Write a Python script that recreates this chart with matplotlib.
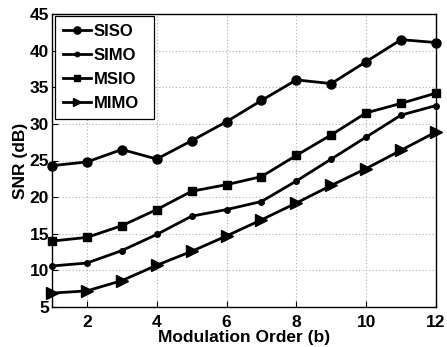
import numpy as np
import matplotlib
matplotlib.use("Agg")
import matplotlib.pyplot as plt

plt.rcParams.update({
    "font.family": ["Liberation Sans", "DejaVu Sans"],
    "font.weight": "bold",
    "font.size": 12.5,
})

order = np.arange(1, 13)
siso = [24.3, 24.8, 26.5, 25.2, 27.7, 30.3, 33.2, 36.0, 35.5, 38.5, 41.5, 41.1]
simo = [10.6, 11.0, 12.7, 14.9, 17.4, 18.3, 19.4, 22.2, 25.2, 28.2, 31.2, 32.5]
msio = [14.0, 14.5, 16.1, 18.3, 20.8, 21.7, 22.8, 25.7, 28.5, 31.5, 32.8, 34.2]
mimo = [6.9, 7.2, 8.6, 10.7, 12.6, 14.7, 16.9, 19.2, 21.6, 23.9, 26.4, 28.9]

series = [
    ("SISO", siso, "o", 6.5),
    ("SIMO", simo, "o", 4),
    ("MSIO", msio, "s", 6),
    ("MIMO", mimo, ">", 8),
]

fig = plt.figure(figsize=(4.47, 3.47), dpi=100)
ax = fig.add_axes([52 / 447, 1 - 307 / 347, 384 / 447, 293 / 347])

for name, vals, mk, ms in series:
    ax.plot(order, vals, color="black", linewidth=2.0, marker=mk,
            markersize=ms, label=name, clip_on=False)

ax.set_xlim(1, 12)
ax.set_ylim(5, 45)
ax.set_xticks([2, 4, 6, 8, 10, 12])
ax.set_yticks(np.arange(5, 46, 5))
ax.grid(True, color="#b0b0b0", linestyle=(0, (1, 2)), linewidth=0.8)
ax.tick_params(direction="in", length=4, width=0.8, labelsize=12.5)
ax.tick_params(axis="x", pad=6)
ax.tick_params(axis="y", pad=2)
for sp in ax.spines.values():
    sp.set_linewidth(1.0)
    sp.set_zorder(5)

ax.set_xlabel("Modulation Order (b)", fontsize=12.5, fontweight="bold", labelpad=0)
ax.set_ylabel("SNR (dB)", fontsize=12.5, fontweight="bold", labelpad=1)

# wide legend box anchored in the upper-left corner
leg = ax.legend(loc="upper left", bbox_to_anchor=(0.008, 0.993, 0.258, 0.0),
                mode="expand", borderaxespad=0.0,
                fancybox=False, edgecolor="black", framealpha=1,
                handlelength=1.7, handletextpad=0.15,
                borderpad=0.45, labelspacing=0.55,
                markerscale=0.8, prop={"weight": "bold", "size": 12})
leg.get_frame().set_linewidth(0.9)
leg.set_zorder(6)

fig.savefig("out.png", dpi=100)
